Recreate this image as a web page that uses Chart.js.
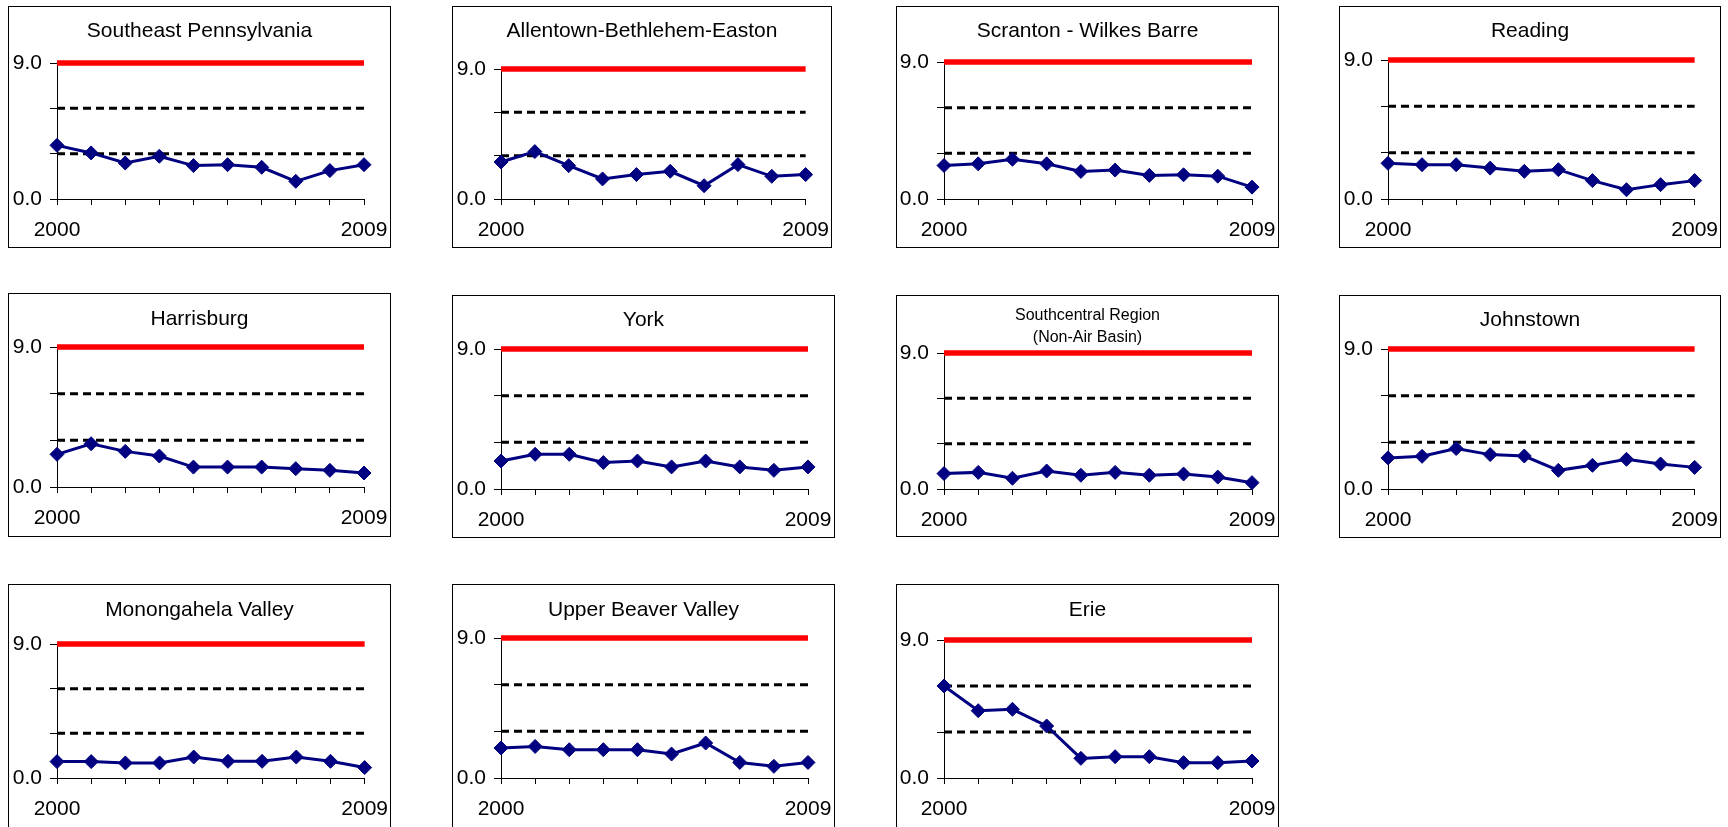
<!DOCTYPE html>
<html>
<head>
<meta charset="utf-8">
<script src="https://cdn.jsdelivr.net/npm/chart.js@4.4.1/dist/chart.umd.min.js"></script>
<style>
  html, body { margin: 0; padding: 0; background: #fff; overflow: hidden; }
  body { width: 1728px; height: 827px; position: relative; font-family: "Liberation Sans", Arial, sans-serif; }
  .panel { position: absolute; border: 1px solid #000; box-sizing: border-box; background: #fff; }
  .panel canvas { position: absolute; left: 0; top: 0; display: block; }
  .ptitle { position: absolute; left: 0; right: 0; text-align: center; color: #000; white-space: nowrap; }
</style>
</head>
<body>
<script>
// ---------- data ----------
const years = ['2000', '2001', '2002', '2003', '2004', '2005', '2006', '2007', '2008', '2009'];
const shownYearLabels = ['2000', '2009'];
const yTicks = { min: 0, max: 9, step: 3 };
const shownYValues = [0, 9];

const southeastPennsylvania = [3.55, 3.05, 2.38, 2.83, 2.21, 2.27, 2.10, 1.17, 1.88, 2.27];
const allentownBethlehemEaston = [2.56, 3.28, 2.31, 1.39, 1.69, 1.92, 0.92, 2.38, 1.57, 1.69];
const scrantonWilkesBarre = [2.20, 2.31, 2.61, 2.31, 1.81, 1.90, 1.55, 1.59, 1.50, 0.78];
const reading = [2.31, 2.22, 2.22, 2.00, 1.79, 1.90, 1.19, 0.60, 0.93, 1.19];
const harrisburg = [2.10, 2.78, 2.29, 1.99, 1.28, 1.28, 1.28, 1.18, 1.07, 0.90];
const york = [1.80, 2.23, 2.23, 1.70, 1.80, 1.42, 1.80, 1.42, 1.20, 1.42];
const southcentralRegion = [1.02, 1.10, 0.71, 1.19, 0.91, 1.10, 0.91, 0.99, 0.79, 0.42];
const johnstown = [2.00, 2.10, 2.60, 2.21, 2.12, 1.20, 1.52, 1.91, 1.61, 1.39];
const monongahelaValley = [1.10, 1.10, 1.01, 1.01, 1.41, 1.12, 1.12, 1.41, 1.12, 0.70];
const upperBeaverValley = [1.93, 2.03, 1.82, 1.82, 1.82, 1.54, 2.25, 1.00, 0.75, 1.00];
const erie = [6.00, 4.39, 4.48, 3.39, 1.28, 1.39, 1.39, 1.00, 1.00, 1.11];

const standardLine = [9.0, 9.0, 9.0, 9.0, 9.0, 9.0, 9.0, 9.0, 9.0, 9.0];
const upperGuideLine = [6.0, 6.0, 6.0, 6.0, 6.0, 6.0, 6.0, 6.0, 6.0, 6.0];
const lowerGuideLine = [3.0, 3.0, 3.0, 3.0, 3.0, 3.0, 3.0, 3.0, 3.0, 3.0];

// ---------- layout (box: left, top, width, height; plot insets relative to box) ----------
const panels = [
  { title: ['Southeast Pennsylvania'], data: southeastPennsylvania, box: [8, 6, 383, 242], plot: { l: 49, t: 57, r: 27, b: 193 }, titleY: 23.5 },
  { title: ['Allentown-Bethlehem-Easton'], data: allentownBethlehemEaston, box: [452, 6, 380, 242], plot: { l: 49, t: 63, r: 26, b: 193 }, titleY: 23.5 },
  { title: ['Scranton - Wilkes Barre'], data: scrantonWilkesBarre, box: [896, 6, 383, 242], plot: { l: 48, t: 56, r: 27, b: 193 }, titleY: 23.5 },
  { title: ['Reading'], data: reading, box: [1339, 6, 382, 242], plot: { l: 49, t: 54, r: 26, b: 193 }, titleY: 23.5 },
  { title: ['Harrisburg'], data: harrisburg, box: [8, 293, 383, 244], plot: { l: 49, t: 54, r: 27, b: 194 }, titleY: 24 },
  { title: ['York'], data: york, box: [452, 295, 383, 243], plot: { l: 49, t: 54, r: 27, b: 194 }, titleY: 23.5 },
  { title: ['Southcentral Region', '(Non-Air Basin)'], data: southcentralRegion, box: [896, 295, 383, 242], plot: { l: 48, t: 58, r: 27, b: 194 }, titleY: 20, small: true },
  { title: ['Johnstown'], data: johnstown, box: [1339, 295, 382, 243], plot: { l: 49, t: 54, r: 26, b: 194 }, titleY: 23.5 },
  { title: ['Monongahela Valley'], data: monongahelaValley, box: [8, 584, 383, 244], plot: { l: 49, t: 60, r: 26, b: 194 }, titleY: 24.3 },
  { title: ['Upper Beaver Valley'], data: upperBeaverValley, box: [452, 584, 383, 244], plot: { l: 49, t: 54, r: 27, b: 194 }, titleY: 24.3 },
  { title: ['Erie'], data: erie, box: [896, 584, 383, 244], plot: { l: 48, t: 56, r: 27, b: 194 }, titleY: 24.3 }
];

Chart.defaults.font.family = '"Liberation Sans", Arial, sans-serif';
Chart.defaults.color = '#000';

const yTickFont = { family: '"Liberation Sans", Arial, sans-serif', size: 21, weight: 'normal', lineHeight: 1.2 };
// tall line box places the year labels below the axis without adding horizontal padding
const xTickFont = { family: '"Liberation Sans", Arial, sans-serif', size: 21, weight: 'normal', lineHeight: 2.2 };

panels.forEach(p => {
  const [bx, by, bw, bh] = p.box;
  const div = document.createElement('div');
  div.className = 'panel';
  div.style.left = bx + 'px';
  div.style.top = by + 'px';
  div.style.width = bw + 'px';
  div.style.height = bh + 'px';

  const cw = bw - 2, ch = bh - 2;
  const canvas = document.createElement('canvas');
  canvas.width = cw; canvas.height = ch;
  canvas.style.width = cw + 'px'; canvas.style.height = ch + 'px';
  div.appendChild(canvas);

  const t = document.createElement('div');
  t.className = 'ptitle';
  const fs = p.small ? 16 : 21;
  const lh = p.small ? 22 : 25;
  t.style.fontSize = fs + 'px';
  t.style.lineHeight = lh + 'px';
  t.style.top = (p.titleY - 1 - lh / 2) + 'px';
  t.innerHTML = p.title.join('<br>');
  div.appendChild(t);
  document.body.appendChild(div);

  const pl = p.plot.l - 1, pt = p.plot.t - 1, pr = p.plot.r - 1, pb = p.plot.b - 1;

  new Chart(canvas, {
    type: 'line',
    data: {
      labels: years,
      datasets: [
        {
          data: p.data,
          borderColor: '#000080', backgroundColor: '#000080',
          borderWidth: 3,
          pointStyle: 'rectRot', pointRadius: 7,
          pointBackgroundColor: '#000080', pointBorderColor: '#000080', pointBorderWidth: 1,
          tension: 0, clip: false
        },
        { data: lowerGuideLine, borderColor: '#000', borderWidth: 3, borderDash: [8, 5], pointRadius: 0, clip: false },
        { data: upperGuideLine, borderColor: '#000', borderWidth: 3, borderDash: [8, 5], pointRadius: 0, clip: false },
        { data: standardLine, borderColor: '#ff0000', borderWidth: 5.5, pointRadius: 0, clip: false, borderCapStyle: 'butt' }
      ]
    },
    options: {
      responsive: false,
      animation: false,
      devicePixelRatio: 1,
      events: [],
      layout: { padding: { top: pt, right: pr, bottom: 0, left: 0 } },
      plugins: { legend: { display: false }, tooltip: { enabled: false }, title: { display: false } },
      scales: {
        x: {
          type: 'category',
          offset: false,
          grid: { drawOnChartArea: false, drawTicks: true, tickLength: 6, color: '#000', lineWidth: 1 },
          border: { display: true, color: '#000', width: 1 },
          ticks: {
            autoSkip: false, maxRotation: 0, minRotation: 0, padding: 2, color: '#000', font: xTickFont,
            callback: (v, i) => shownYearLabels.includes(years[i]) ? years[i] : ''
          },
          afterFit: s => { s.height = ch - pb; }
        },
        y: {
          min: yTicks.min, max: yTicks.max,
          grid: { drawOnChartArea: false, drawTicks: true, tickLength: 7, color: '#000', lineWidth: 1 },
          border: { display: true, color: '#000', width: 1 },
          ticks: {
            stepSize: yTicks.step, padding: 8, color: '#000', font: yTickFont,
            callback: v => shownYValues.includes(v) ? v.toFixed(1) : ''
          },
          afterFit: s => { s.width = pl; }
        }
      }
    }
  });
});
</script>
</body>
</html>
